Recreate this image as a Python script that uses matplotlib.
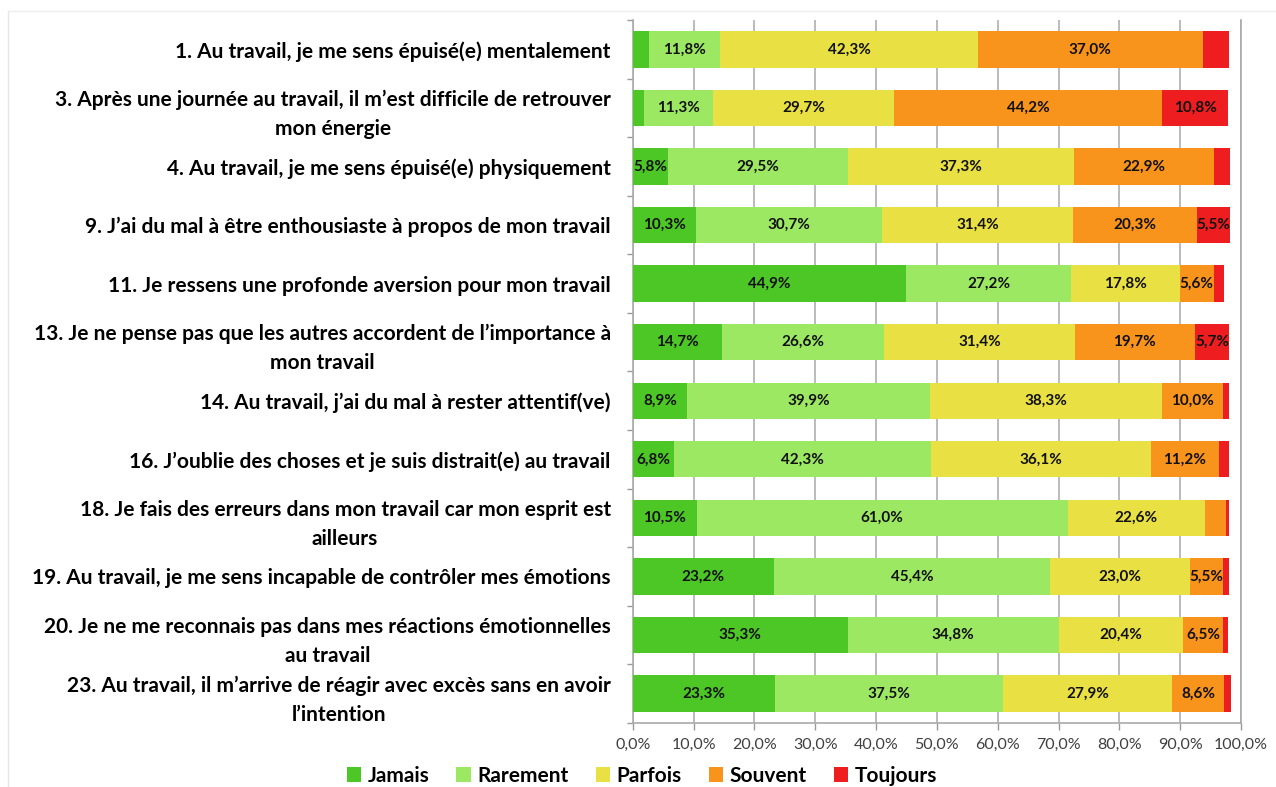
import numpy as np
import matplotlib.pyplot as plt
from matplotlib.lines import Line2D

plt.rcParams['font.family'] = ['Lato', 'DejaVu Sans']

items = [
    "1. Au travail, je me sens épuisé(e) mentalement",
    "3. Après une journée au travail, il m’est difficile de retrouver\nmon énergie",
    "4. Au travail, je me sens épuisé(e) physiquement",
    "9. J’ai du mal à être enthousiaste à propos de mon travail",
    "11. Je ressens une profonde aversion pour mon travail",
    "13. Je ne pense pas que les autres accordent de l’importance à\nmon travail",
    "14. Au travail, j’ai du mal à rester attentif(ve)",
    "16. J’oublie des choses et je suis distrait(e) au travail",
    "18. Je fais des erreurs dans mon travail car mon esprit est\nailleurs",
    "19. Au travail, je me sens incapable de contrôler mes émotions",
    "20. Je ne me reconnais pas dans mes réactions émotionnelles\nau travail",
    "23. Au travail, il m’arrive de réagir avec excès sans en avoir\nl’intention",
]

categories = ["Jamais", "Rarement", "Parfois", "Souvent", "Toujours"]

jamais = [2.6, 1.9, 5.8, 10.3, 44.9, 14.7, 8.9, 6.8, 10.5, 23.2, 35.3, 23.3]
rarement = [11.8, 11.3, 29.5, 30.7, 27.2, 26.6, 39.9, 42.3, 61.0, 45.4, 34.8, 37.5]
parfois = [42.3, 29.7, 37.3, 31.4, 17.8, 31.4, 38.3, 36.1, 22.6, 23.0, 20.4, 27.9]
souvent = [37.0, 44.2, 22.9, 20.3, 5.6, 19.7, 10.0, 11.2, 3.5, 5.5, 6.5, 8.6]
toujours = [4.4, 10.8, 2.7, 5.5, 1.7, 5.7, 1.0, 1.7, 0.4, 0.9, 0.8, 1.0]

colors = ["#4cc726", "#9de863", "#e9e043", "#f8931b", "#ee1d1f"]

series = [jamais, rarement, parfois, souvent, toujours]

fig = plt.figure(figsize=(12.76, 7.87), dpi=100)
ax = fig.add_axes([0.496, 0.0815, 0.4765, 0.893])

y = np.arange(len(items))
left = np.zeros(len(items))
for name, vals, col in zip(categories, series, colors):
    vals = np.array(vals)
    ax.barh(y, vals, left=left, height=0.62, color=col, label=name, zorder=3)
    for yi, (l, v) in enumerate(zip(left, vals)):
        if v >= 5:
            ax.text(l + v / 2, yi, f"{v:.1f}%".replace(".", ","), ha="center",
                    va="center", fontsize=11, fontweight="bold", color="#111111",
                    zorder=4)
    left += vals

ax.set_xlim(0, 100)
ax.set_ylim(len(items) - 0.5, -0.5)
ax.set_xticks(np.arange(0, 101, 10))
ax.set_xticklabels([f"{v:.1f}%".replace(".", ",") for v in np.arange(0, 101, 10)],
                   fontsize=11.5, color="#404040")
ax.set_yticks(y)
ax.set_yticklabels(items, fontsize=15, fontweight="bold", multialignment="center",
                   linespacing=1.55)
ax.set_yticks(np.arange(-0.5, len(items), 1), minor=True)
ax.tick_params(axis="y", which="major", length=0, pad=16)
ax.tick_params(axis="y", which="minor", length=4, color="#999999", width=1)
ax.tick_params(axis="x", length=5, color="#999999", width=1, pad=6)

ax.grid(axis="x", color="#b5b5b5", linewidth=1.3, zorder=0)
ax.spines["top"].set_visible(False)
for s in ["left", "bottom", "right"]:
    ax.spines[s].set_color("#aaaaaa")
    ax.spines[s].set_linewidth(1.2)

fig.legend(loc="center", bbox_to_anchor=(0.503, 0.014), ncol=5, frameon=False,
           prop={"size": 15, "weight": "bold"}, handlelength=0.7, handleheight=0.7,
           handletextpad=0.3, columnspacing=1.3)

# faint chart frame
fig.add_artist(Line2D([8 / 1276, 8 / 1276], [0, 1 - 11 / 787], color="#e6e6e6", lw=1))
fig.add_artist(Line2D([8 / 1276, 1], [1 - 11 / 787, 1 - 11 / 787], color="#eeeeee", lw=1))

fig.savefig("out.png", dpi=100, facecolor="white")
